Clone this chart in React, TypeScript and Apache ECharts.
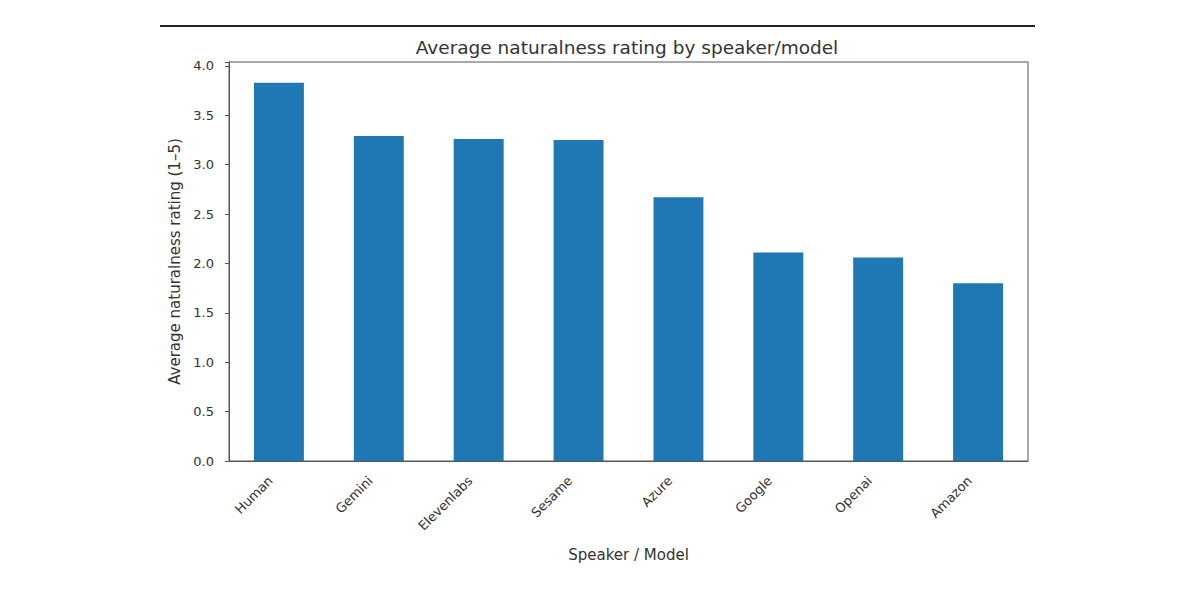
import { useEffect, useRef } from 'react'
import * as echarts from 'echarts'

// Speakers / models, in the order they appear (sorted by rating, highest first)
const speakers = ['Human', 'Gemini', 'Elevenlabs', 'Sesame', 'Azure', 'Google', 'Openai', 'Amazon']
// Average naturalness rating (1-5 scale)
const ratings = [3.83, 3.29, 3.26, 3.25, 2.67, 2.11, 2.06, 1.8]

const titulo = 'Average naturalness rating by speaker/model'
const nomeEixoY = 'Average naturalness rating (1–5)'
const nomeEixoX = 'Speaker / Model'

const fonte = '"DejaVu Sans", sans-serif'
const corTexto = '#333'
const corEixo = '#555'

export default function App() {
  const containerRef = useRef<HTMLDivElement>(null)

  useEffect(() => {
    document.body.style.margin = '0'
    if (!containerRef.current) return
    const instancia = echarts.init(containerRef.current, undefined, { renderer: 'svg' })

    instancia.setOption({
      animation: false,
      backgroundColor: '#fff',
      textStyle: { fontFamily: fonte, color: corTexto },
      grid: {
        left: 229, right: 172, top: 62, bottom: 139,
        show: true, borderColor: corEixo, borderWidth: 1,
      },
      graphic: [
        {
          type: 'line',
          shape: { x1: 160, y1: 26, x2: 1035, y2: 26 },
          style: { stroke: '#222', lineWidth: 2 },
        },
        {
          type: 'text',
          x: 627,
          y: 47,
          style: {
            text: titulo, align: 'center', verticalAlign: 'middle',
            fontSize: 18.5, fontFamily: fonte, fill: corTexto,
          },
        },
      ],
      xAxis: {
        type: 'category',
        data: speakers,
        name: nomeEixoX,
        nameLocation: 'middle',
        nameGap: 86,
        nameTextStyle: { fontSize: 15, color: corTexto },
        axisLine: { lineStyle: { color: corEixo } },
        axisTick: { alignWithLabel: true, length: 4, lineStyle: { color: corEixo } },
        // o padding a direita empurra o rotulo girado para baixo/esquerda, como no matplotlib
        axisLabel: { rotate: 45, fontSize: 13, color: corTexto, margin: 9, interval: 0, padding: [0, 12, 0, 0] },
      },
      yAxis: {
        type: 'value',
        min: 0,
        max: 4.04,
        interval: 0.5,
        name: nomeEixoY,
        nameLocation: 'middle',
        nameGap: 47,
        nameTextStyle: { fontSize: 15, color: corTexto },
        axisLine: { show: true, lineStyle: { color: corEixo } },
        axisTick: { show: true, length: 4, lineStyle: { color: corEixo } },
        splitLine: { show: false },
        axisLabel: {
          fontSize: 13,
          color: corTexto,
          margin: 15,
          formatter: (v: number) => (Math.abs(v * 2 - Math.round(v * 2)) < 1e-6 ? v.toFixed(1) : ''),
        },
      },
      series: [
        {
          type: 'bar',
          data: ratings,
          barWidth: '50%',
          itemStyle: { color: '#1f77b4' },
        },
      ],
    })

    return () => instancia.dispose()
  }, [])

  return <div ref={containerRef} style={{ width: 1200, height: 600 }} />
}
